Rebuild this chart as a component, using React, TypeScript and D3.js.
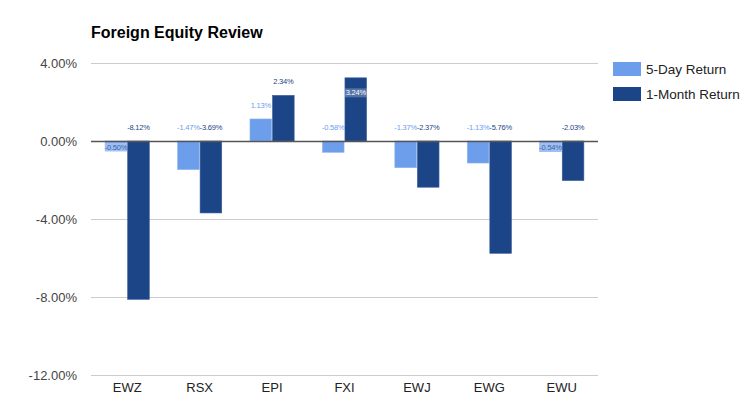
import { useEffect, useRef } from 'react';
import * as d3 from 'd3';

const categories = ['EWZ', 'RSX', 'EPI', 'FXI', 'EWJ', 'EWG', 'EWU'];
const fiveDay = [-0.5, -1.47, 1.13, -0.58, -1.37, -1.13, -0.54];
const oneMonth = [-8.12, -3.69, 2.34, 3.24, -2.37, -5.76, -2.03];
const seriesNames = ['5-Day Return', '1-Month Return'];
const seriesColors = ['#6d9eeb', '#1c4587'];
const labelColors = ['#6d9eeb', '#1c4587'];
const yTicks = [4, 0, -4, -8, -12];
// labels Google drew inside the bar instead of above it
const insideLabels = ['EWZ|0', 'EWU|0', 'FXI|1'];

const pct = (v: number) => d3.format('.2f')(v).replace('\u2212', '-') + '%';

export default function App() {
  const svgRef = useRef<SVGSVGElement>(null);

  useEffect(() => {
    if (!svgRef.current) return;
    const svg = d3.select(svgRef.current);
    svg.selectAll('*').remove();

    const width = 750;
    const height = 415;
    const margin = { top: 63, right: 152, bottom: 40, left: 91 };
    const font = 'Liberation Sans, Arial, sans-serif';

    svg.attr('width', width).attr('height', height).style('font-family', font);

    svg.append('rect').attr('width', width).attr('height', height).attr('fill', '#fff');

    const x = d3
      .scaleBand()
      .domain(categories)
      .range([margin.left, width - margin.right])
      .paddingInner(0.39)
      .paddingOuter(0.195);

    const y = d3.scaleLinear().domain([4, -12]).range([63, 375]);

    const inner = d3.scaleBand().domain(['0', '1']).range([0, x.bandwidth()]).paddingInner(0.04);

    // title
    svg
      .append('text')
      .attr('x', 91)
      .attr('y', 38)
      .attr('font-size', 16)
      .attr('font-weight', 'bold')
      .attr('fill', '#000')
      .text('Foreign Equity Review');

    // gridlines
    svg
      .append('g')
      .selectAll('line')
      .data(yTicks.filter((t) => t !== 0))
      .enter()
      .append('line')
      .attr('x1', margin.left)
      .attr('x2', width - margin.right)
      .attr('y1', (d) => y(d) + 0.5)
      .attr('y2', (d) => y(d) + 0.5)
      .attr('stroke', '#cccccc')
      .attr('stroke-width', 1);

    // y tick labels
    svg
      .append('g')
      .selectAll('text')
      .data(yTicks)
      .enter()
      .append('text')
      .attr('x', 77)
      .attr('y', (d) => y(d))
      .attr('dy', '0.35em')
      .attr('text-anchor', 'end')
      .attr('font-size', 13)
      .attr('fill', '#444')
      .text((d) => pct(d));

    const rows = categories.map((c, i) => ({ cat: c, vals: [fiveDay[i], oneMonth[i]] }));

    const groups = svg
      .append('g')
      .selectAll('g')
      .data(rows)
      .enter()
      .append('g')
      .attr('transform', (d) => `translate(${x(d.cat)},0)`);

    groups
      .selectAll('rect')
      .data((d) => d.vals.map((v, s) => ({ v, s, cat: d.cat })))
      .enter()
      .append('rect')
      .attr('x', (d) => inner(String(d.s))!)
      .attr('width', inner.bandwidth())
      .attr('y', (d) => Math.min(y(d.v), y(0)))
      .attr('height', (d) => Math.abs(y(d.v) - y(0)))
      .attr('fill', (d) => seriesColors[d.s])
      .attr('stroke', (d) => (d.s === 0 ? '#8fb5f0' : '#3b5f9c'))
      .attr('stroke-width', 0.6);

    // zero baseline
    svg
      .append('line')
      .attr('x1', margin.left)
      .attr('x2', width - margin.right)
      .attr('y1', y(0) + 0.5)
      .attr('y2', y(0) + 0.5)
      .attr('stroke', '#555')
      .attr('stroke-width', 1.5);

    // value labels
    const labels = groups
      .selectAll('g.lbl')
      .data((d) => d.vals.map((v, s) => ({ v, s, cat: d.cat })))
      .enter()
      .append('g')
      .attr('class', 'lbl');

    labels.each(function (d) {
      const g = d3.select(this);
      const inside = insideLabels.includes(`${d.cat}|${d.s}`);
      const cx = inner(String(d.s))! + inner.bandwidth() / 2;
      const end = d.v >= 0 ? y(d.v) : y(0);
      const ly = inside ? (d.v >= 0 ? end + 15 : y(0) + 6) : end - 14;
      const txt = pct(d.v);
      let fill = labelColors[d.s];
      if (inside) {
        g.append('rect')
          .attr('x', cx - 11)
          .attr('y', ly - 4.5)
          .attr('width', 22)
          .attr('height', 9)
          .attr('fill', d.s === 1 ? '#ffffff' : '#a4c2f4')
          .attr('opacity', d.s === 1 ? 0.25 : 0.9);
        fill = d.s === 1 ? '#ffffff' : '#3c64a8';
      }
      g.append('text')
        .attr('x', cx)
        .attr('y', ly)
        .attr('dy', '0.35em')
        .attr('text-anchor', 'middle')
        .attr('font-size', 7.5)
        .attr('letter-spacing', -0.2)
        .attr('fill', fill)
        .text(txt);
    });

    // x labels
    svg
      .append('g')
      .selectAll('text')
      .data(categories)
      .enter()
      .append('text')
      .attr('x', (d) => x(d)! + x.bandwidth() / 2)
      .attr('y', 392)
      .attr('text-anchor', 'middle')
      .attr('font-size', 13)
      .attr('fill', '#222')
      .text((d) => d);

    // legend
    const legend = svg
      .append('g')
      .selectAll('g')
      .data(seriesNames)
      .enter()
      .append('g')
      .attr('transform', (d, i) => `translate(613,${62 + i * 25})`);

    legend
      .append('rect')
      .attr('width', 28)
      .attr('height', 14)
      .attr('fill', (d, i) => seriesColors[i]);

    legend
      .append('text')
      .attr('x', 33)
      .attr('y', 7)
      .attr('dy', '0.35em')
      .attr('font-size', 13.5)
      .attr('fill', '#222')
      .text((d) => d);
  }, []);

  return (
    <div style={{ margin: -8 }}>
      <svg ref={svgRef}></svg>
    </div>
  );
}
